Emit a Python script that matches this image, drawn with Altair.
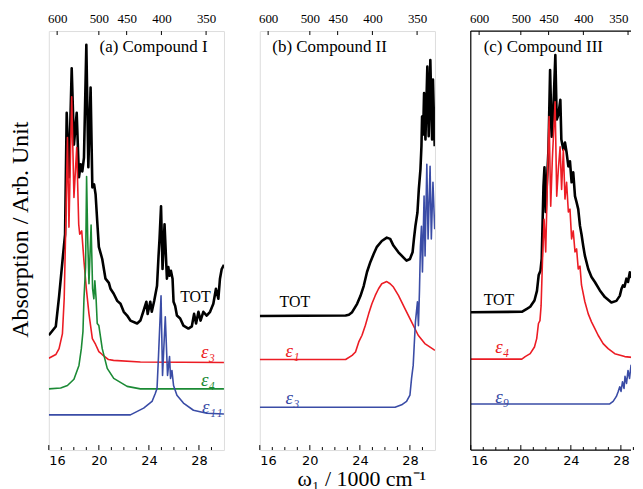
import altair as alt
import pandas as pd

# ---------------- data (x: 1000 cm^-1, y: arbitrary units 0-100) ----------------
a_tot = [(16.0,27.4),(16.56,29.5),(16.82,36.6),(17.09,45.1),(17.30,51.5),(17.43,80.5),(17.61,65.1),
         (17.83,91.1),(18.01,72.9),(18.23,80.5),(18.41,65.1),(18.55,68.2),(18.68,66.5),(18.81,69.8),
         (19.00,96.7),(19.16,67.5),(19.34,86.5),(19.48,62.7),(19.62,63.4),(19.74,61.0),(19.87,54.6),
         (20.00,48.5),(20.27,45.6),(20.53,40.9),(20.80,39.9),(20.93,38.5),(21.19,37.3),(21.47,35.6),
         (21.73,34.9),(21.99,33.0),(22.26,32.1),(22.52,30.9),(23.06,30.2),(23.32,30.9),(23.58,33.3),
         (23.80,35.4),(23.90,32.5),(24.11,35.4),(24.23,33.0),(24.43,35.7),(24.65,39.2),(24.77,46.3),
         (24.85,50.4),(24.97,58.2),(25.09,43.2),(25.25,53.9),(25.44,40.9),(25.55,43.7),(25.65,41.6),
         (25.76,42.8),(25.89,40.9),(25.97,35.4),(26.10,34.4),(26.24,32.1),(26.50,31.4),(26.76,29.7),
         (27.16,29.0),(27.43,29.5),(27.61,32.5),(27.77,30.2),(27.96,33.0),(28.13,30.9),(28.35,33.0),
         (28.62,32.1),(28.89,33.0),(29.15,34.9),(29.36,38.5),(29.55,36.1),(29.68,40.9),(29.82,43.2),
         (30.00,44.2)]
a_e3 = [(16.0,21.9),(16.56,22.8),(16.82,24.2),(17.09,27.8),(17.23,36.1),(17.35,52.7),(17.49,74.6),
        (17.61,53.2),(17.83,84.3),(18.01,60.3),(18.23,72.2),(18.39,53.9),(18.47,51.5),(18.63,52.3),
        (18.81,45.1),(19.00,38.5),(19.21,32.5),(19.48,26.6),(19.74,25.2),(20.00,23.5),(20.27,22.8),
        (20.77,21.6),(21.17,21.4),(23.32,21.0),(30.0,20.9)]
a_e4 = [(16.0,14.6),(16.95,14.8),(17.49,15.4),(18.01,16.9),(18.41,20.2),(18.60,24.2),(18.73,28.3),
        (18.81,36.1),(18.94,43.7),(19.02,65.3),(19.11,50.4),(19.21,39.7),(19.38,53.7),(19.50,38.5),
        (19.60,36.1),(19.68,40.4),(19.78,36.1),(19.87,30.2),(20.00,29.7),(20.27,24.2),(20.67,19.5),
        (21.19,17.1),(22.26,15.2),(23.32,14.6),(30.0,14.6)]
a_e11 = [(16.0,8.4),(22.52,8.4),(23.58,10.0),(24.25,11.6),(24.51,13.5),(24.65,14.7),(24.77,22.6),
         (24.97,36.8),(25.09,17.8),(25.31,31.8),(25.49,17.8),(25.65,22.3),(25.73,17.1),(25.84,19.0),
         (25.97,15.4),(26.24,13.1),(26.76,11.2),(27.56,9.5),(28.62,8.8),(30.0,8.6)]

b_tot = [(16.0,32.0),(22.86,32.1),(23.12,32.3),(23.38,32.9),(23.78,34.9),(24.05,36.8),(24.31,39.2),
         (24.57,42.5),(24.84,44.9),(25.10,46.8),(25.36,48.5),(25.75,49.9),(26.15,50.7),(26.42,50.4),
         (26.68,48.8),(27.08,47.2),(27.47,46.0),(27.73,45.2),(28.00,45.6),(28.21,47.2),(28.32,50.4),
         (28.44,53.5),(28.60,56.7),(28.71,62.2),(28.84,67.0),(28.92,72.5),(28.97,79.6),(29.05,75.3),
         (29.13,85.2),(29.24,74.1),(29.39,91.5),(29.50,74.9),(29.63,93.1),(29.77,74.1),(29.84,88.4),
         (29.98,72.5)]
b_e1 = [(16.0,21.6),(22.86,21.6),(23.38,22.6),(23.65,23.4),(23.91,25.8),(24.17,27.4),(24.44,29.8),
        (24.70,32.5),(24.96,34.9),(25.23,36.9),(25.49,38.5),(25.75,39.7),(26.15,40.2),(26.42,39.7),
        (26.68,38.9),(27.08,36.9),(27.61,33.7),(28.13,30.6),(28.66,27.4),(29.19,25.4),(30.0,23.8)]
b_e3 = [(16.0,10.2),(26.81,10.2),(27.34,10.8),(27.73,11.6),(28.00,13.1),(28.13,17.1),(28.26,20.2),
        (28.34,24.9),(28.44,30.6),(28.60,35.4),(28.68,29.7),(28.76,37.8),(28.84,48.7),(28.92,53.4),
        (29.00,42.5),(29.13,60.6),(29.21,46.3),(29.35,68.2),(29.45,50.4),(29.61,67.7),(29.71,50.4),
        (29.84,63.9),(29.98,52.7)]

c_tot = [(16.0,32.9),(20.08,33.0),(20.48,33.7),(20.75,34.2),(21.09,35.7),(21.29,38.0),(21.43,41.8),
         (21.57,42.8),(21.67,45.6),(21.81,62.9),(21.89,67.5),(21.99,56.8),(22.07,62.9),(22.21,71.7),
         (22.34,90.7),(22.47,74.8),(22.60,81.2),(22.76,94.3),(22.87,78.9),(23.00,80.0),(23.16,83.6),
         (23.24,74.1),(23.40,71.7),(23.53,73.4),(23.66,71.0),(23.80,67.7),(23.93,68.9),(24.06,63.9),
         (24.19,66.3),(24.33,60.6),(24.46,59.1),(24.59,57.5),(24.73,53.5),(24.85,51.5),(24.99,48.7),
         (25.12,46.4),(25.39,43.2),(25.65,41.3),(25.92,40.1),(26.32,38.1),(26.72,36.5),(27.24,35.2),
         (27.64,35.6),(27.91,36.8),(28.05,38.5),(28.17,39.3),(28.29,39.0),(28.44,40.9),(28.57,40.1),
         (28.71,42.4),(28.83,41.3),(28.97,43.5),(29.10,42.5),(29.23,44.4),(29.37,43.7),(29.50,44.8),
         (29.64,44.4),(29.84,45.4),(30.0,45.1)]
c_e4 = [(16.0,21.7),(20.08,21.7),(20.35,22.3),(20.75,23.0),(21.09,24.6),(21.27,26.6),(21.41,30.2),
        (21.53,30.9),(21.62,34.4),(21.73,45.1),(21.86,55.1),(21.99,47.3),(22.13,64.6),(22.26,79.6),
        (22.39,58.2),(22.52,69.4),(22.74,83.1),(22.87,60.6),(23.00,67.0),(23.14,72.4),(23.26,62.2),
        (23.40,71.7),(23.53,59.9),(23.66,63.9),(23.80,56.8),(23.93,57.5),(24.06,50.4),(24.19,52.3),
        (24.33,47.3),(24.46,48.0),(24.59,43.2),(24.73,43.9),(24.85,39.4),(25.12,35.4),(25.39,32.5),
        (25.65,30.6),(25.92,29.0),(26.18,27.4),(26.58,25.4),(26.98,24.2),(27.51,23.0),(28.31,22.3),
        (29.50,21.9),(30.0,21.7)]
c_e9 = [(16.0,11.0),(27.11,11.0),(27.38,11.6),(27.64,12.8),(27.78,13.9),(27.91,15.1),(28.01,14.0),
        (28.13,16.3),(28.25,14.7),(28.33,17.6),(28.45,15.9),(28.57,19.0),(28.69,17.1),(28.81,20.2),
        (28.93,18.3),(29.05,21.1),(29.17,19.7),(29.29,21.6),(29.40,20.4),(29.52,21.9),(29.68,21.4),
        (29.84,22.1),(30.0,21.9)]

# labels: (x, y, text, colour key)
a_labels = [(26.5, 36.6, "TOT", "k"), (28.17, 23.3, "ε₃", "r"), (28.17, 16.7, "ε₄", "g"), (28.25, 10.3, "ε₁₁", "b")]
b_labels = [(17.58, 35.4, "TOT", "k"), (18.06, 23.6, "ε₁", "r"), (18.06, 12.4, "ε₃", "b")]
c_labels = [(17.03, 35.7, "TOT", "k"), (17.96, 24.5, "ε₄", "r"), (17.96, 12.6, "ε₉", "b")]
panel_titles = [(20.06, 96.1, "(a) Compound I"), (17.0, 96.1, "(b) Compound II"), (17.03, 96.2, "(c) Compound III")]

bottom_major = [16, 20, 24, 28]
bottom_minor = [17, 18, 19, 21, 22, 23, 25, 26, 27, 29]
top_nm = [600, 500, 450, 400, 350]

COL = {"k": "#000000", "r": "#ec1c24", "g": "#1b8a35", "b": "#3a4ca6"}
SERIF = "Liberation Serif"

YS = alt.Scale(domain=[0, 100], nice=False, zero=False)
W, H = 176, 421
W_C = 161            # third panel is cut off by the right page edge in the reference
X_MAX_C = 28.81      # visible part of the third panel's x range


def panel(curves, labels, title, x_max=30, width=W, x_title=None, y_title=None, open_right=False):
    XS = alt.Scale(domain=[16, x_max], nice=False, zero=False)
    layers = []
    for i, (pairs, ck) in enumerate(curves):
        d = pd.DataFrame(pairs, columns=["x", "y"])
        if i == 0:
            xa = alt.Axis(orient="bottom", values=bottom_major, ticks=False, domain=False, grid=False,
                          labelFont="DejaVu Sans", labelFontSize=13, labelPadding=5, labelColor="black",
                          title=x_title, titleFont=SERIF, titleFontSize=22, titleFontWeight="normal",
                          titleColor="black", titlePadding=1, titleX=102)
            if y_title:
                ya = alt.Axis(orient="left", labels=False, ticks=False, domain=False, grid=False,
                              title=y_title, titleFont=SERIF, titleFontSize=24, titleFontWeight="normal",
                              titleColor="black", titlePadding=16, titleY=199)
            else:
                ya = None
        else:
            xa = None
            ya = None
        layers.append(alt.Chart(d).mark_line(color=COL[ck], strokeWidth=2.6 if ck == "k" else 1.6,
                                             clip=True, strokeJoin="round").encode(
            x=alt.X("x:Q", scale=XS, axis=xa), y=alt.Y("y:Q", scale=YS, axis=ya)))
    # top wavelength axis and ticks
    top_df = pd.DataFrame({"nm": top_nm})
    top_df["pos"] = 10000.0 / top_df["nm"]
    top_kw = dict(orient="top", values=list(top_df["pos"]), ticks=False, domain=False, grid=False,
                  labelExpr="format(10000/datum.value, '.0f')", labelFont=SERIF, labelFontSize=13,
                  labelPadding=6, labelColor="black", title=None)
    if open_right:
        top_kw["labelFlush"] = 5
    top_axis = alt.Axis(**top_kw)
    layers.append(alt.Chart(top_df).mark_rule(color="black", strokeWidth=1).encode(
        x=alt.X("pos:Q", scale=XS, axis=top_axis), y=alt.value(0), y2=alt.value(4)))
    layers.append(alt.Chart(pd.DataFrame({"t": bottom_major})).mark_rule(color="black", strokeWidth=1).encode(
        x=alt.X("t:Q", scale=XS, axis=None), y=alt.value(H), y2=alt.value(H - 5)))
    layers.append(alt.Chart(pd.DataFrame({"t": bottom_minor})).mark_rule(color="black", strokeWidth=1).encode(
        x=alt.X("t:Q", scale=XS, axis=None), y=alt.value(H), y2=alt.value(H - 3)))
    if open_right:
        # frame without the right edge (it lies beyond the page)
        layers.append(alt.Chart(pd.DataFrame({"t": [16]})).mark_rule(color="black", strokeWidth=1.2).encode(
            x=alt.X("t:Q", scale=XS, axis=None), y=alt.value(0), y2=alt.value(H)))
        layers.append(alt.Chart(pd.DataFrame({"t": [16]})).mark_rule(color="black", strokeWidth=1.2).encode(
            x=alt.value(0), x2=alt.value(width), y=alt.value(0)))
        layers.append(alt.Chart(pd.DataFrame({"t": [16]})).mark_rule(color="black", strokeWidth=1.2).encode(
            x=alt.value(0), x2=alt.value(width), y=alt.value(H)))
    # curve labels
    for (lx, ly, txt, ck) in labels:
        is_eps = txt != "TOT"
        layers.append(alt.Chart(pd.DataFrame({"x": [lx], "y": [ly], "t": [txt]})).mark_text(
            align="left", baseline="middle", font=SERIF, fontSize=19 if is_eps else 16,
            fontStyle="italic" if is_eps else "normal", color=COL[ck]).encode(
            x=alt.X("x:Q", scale=XS, axis=None), y=alt.Y("y:Q", scale=YS, axis=None), text="t:N"))
    tx, ty, tt = title
    layers.append(alt.Chart(pd.DataFrame({"x": [tx], "y": [ty], "t": [tt]})).mark_text(
        align="left", baseline="middle", font=SERIF, fontSize=17, color="black").encode(
        x=alt.X("x:Q", scale=XS, axis=None), y=alt.Y("y:Q", scale=YS, axis=None), text="t:N"))
    props = dict(width=width, height=H)
    if open_right:
        props["view"] = alt.ViewBackground(stroke="transparent")
    return alt.layer(*layers).resolve_axis(x="independent", y="independent").properties(**props)


pa = panel([(a_tot, "k"), (a_e3, "r"), (a_e4, "g"), (a_e11, "b")], a_labels, panel_titles[0],
           y_title="Absorption / Arb. Unit")
pb = panel([(b_tot, "k"), (b_e1, "r"), (b_e3, "b")], b_labels, panel_titles[1],
           x_title="ω₁ / 1000 cm⁻¹")
pc = panel([(c_tot, "k"), (c_e4, "r"), (c_e9, "b")], c_labels, panel_titles[2],
           x_max=X_MAX_C, width=W_C, open_right=True)

chart = alt.hconcat(pa, pb, pc, spacing=36, bounds="flush").properties(
    padding={"left": 0, "top": 2, "right": 0, "bottom": 0}
).configure_view(stroke="black", strokeWidth=1.2).configure(background="white")

chart.save("out.html", embed_options={"renderer": "svg", "actions": False})
